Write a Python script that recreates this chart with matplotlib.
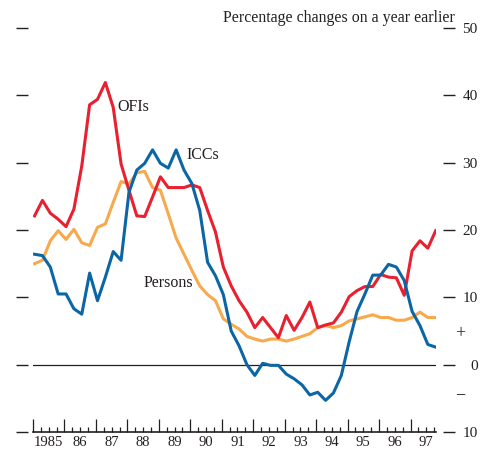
import numpy as np
import matplotlib
matplotlib.use("Agg")
import matplotlib.pyplot as plt
import matplotlib.transforms as mtransforms

plt.rcParams['font.family'] = ['Liberation Serif', 'DejaVu Serif']

# Quarterly growth rates, 1985 Q1 - 1997 Q4 (percentage changes on a year earlier)
quarters = np.arange(52)
ofis = [22.1, 24.4, 22.5, 21.6, 20.5, 23.1, 29.5, 38.6, 39.4, 41.9,
        38.2, 29.8, 25.9, 22.1, 22.0, 24.9, 27.9, 26.3, 26.3, 26.3,
        26.7, 26.3, 22.9, 19.7, 14.5, 11.7, 9.5, 7.8, 5.5, 7.0,
        5.5, 4.0, 7.3, 5.1, 7.0, 9.3, 5.5, 5.9, 6.2, 7.8,
        10.1, 11.0, 11.6, 11.6, 13.4, 13.0, 12.9, 10.3, 16.9, 18.4,
        17.3, 19.9]
iccs = [16.4, 16.2, 14.5, 10.5, 10.5, 8.3, 7.5, 13.6, 9.5, 13.0,
        16.8, 15.5, 25.6, 28.9, 29.9, 31.9, 29.9, 29.2, 31.9, 28.9,
        26.9, 22.9, 15.2, 13.2, 10.4, 5.0, 2.8, 0.0, -1.6, 0.2,
        -0.1, -0.1, -1.4, -2.1, -3.0, -4.5, -4.1, -5.3, -4.2, -1.6,
        3.4, 7.9, 10.5, 13.3, 13.3, 14.9, 14.5, 12.5, 7.9, 5.8,
        3.0, 2.6]
persons = [15.0, 15.5, 18.4, 19.9, 18.6, 20.1, 18.1, 17.7, 20.4, 20.9,
           24.1, 27.2, 26.8, 28.5, 28.7, 26.3, 25.9, 22.4, 18.8, 16.4,
           14.0, 11.7, 10.4, 9.5, 6.8, 6.0, 5.3, 4.2, 3.8, 3.5,
           3.8, 3.8, 3.5, 3.8, 4.2, 4.6, 5.5, 5.8, 5.5, 5.8,
           6.5, 6.8, 7.1, 7.4, 7.0, 7.0, 6.6, 6.6, 7.0, 7.8,
           7.0, 7.0]

years = np.arange(1985, 1998)
year_labels = ['1985', '86', '87', '88', '89', '90', '91', '92', '93', '94', '95', '96', '97']
yticks = [-10, 0, 10, 20, 30, 40, 50]
ytick_labels = ['10', '0', '10', '20', '30', '40', '50']

RED = '#e8202f'
BLUE = '#0b66a6'
ORANGE = '#f7a94b'
INK = '#231f20'

t = 1985 + (quarters + 0.2) / 4.0

fig = plt.figure(figsize=(4.81, 4.51), dpi=100)
ax = fig.add_axes([33 / 481, 19 / 451, 402.7 / 481, 404 / 451])

ax.axhline(0, color=INK, lw=0.9, zorder=1)
ax.plot(t, persons, color=ORANGE, lw=2.2, zorder=2)
ax.plot(t, ofis, color=RED, lw=2.2, zorder=3)
ax.plot(t, iccs, color=BLUE, lw=2.2, zorder=4)

ax.set_xlim(1985, 1997.8)
ax.set_ylim(-10, 50)

# spines: only the bottom axis line is drawn, y ticks float outside
ax.spines['top'].set_visible(False)
ax.spines['left'].set_position(('outward', 3.6))
ax.spines['right'].set_position(('outward', 5.3))
ax.spines['left'].set_color('none')
ax.spines['right'].set_color('none')
ax.spines['bottom'].set_linewidth(1.2)
ax.spines['bottom'].set_color(INK)

# x axis: year boundaries (major) and quarters (minor), labels mid-year
ax.set_xticks(years)
ax.set_xticklabels([])
qpos = [y + q / 4 for y in years for q in (1, 2, 3)]
qlab = []
for y, lab in zip(years, year_labels):
    qlab += ['', lab, '']
ax.set_xticks(qpos, minor=True)
ax.set_xticklabels(qlab, minor=True)
ax.tick_params(axis='x', which='major', direction='in', length=9.4, width=0.9, color=INK)
ax.tick_params(axis='x', which='minor', direction='in', length=3.8, width=0.9, color=INK,
               pad=3, labelsize=10.5, labelcolor=INK)

# y axis: dashes on both sides, labels on the right (right-aligned)
ax.set_yticks(yticks)
ax.set_yticklabels(ytick_labels)
ax.tick_params(axis='y', which='both', left=True, right=True, labelleft=False, labelright=True,
               direction='out', length=8.3, width=1.0, color=INK, pad=16.5,
               labelsize=11, labelcolor=INK)
for lab in ax.get_yticklabels():
    lab.set_horizontalalignment('right')

trans = mtransforms.blended_transform_factory(ax.transAxes, ax.transData)
ax.text(1.06, 4.6, '+', transform=trans, ha='center', va='center', fontsize=13, color=INK, clip_on=False)
ax.text(1.06, -4.4, '\u2212', transform=trans, ha='center', va='center', fontsize=13, color=INK, clip_on=False)

fig.text(455 / 481, 1 - 18 / 451, 'Percentage changes on a year earlier',
         ha='right', va='center', fontsize=11.4, color=INK)

ax.text(1987.67, 38.2, 'OFIs', ha='left', va='center', fontsize=11.5, color=INK)
ax.text(1989.89, 31.2, 'ICCs', ha='left', va='center', fontsize=11.5, color=INK)
ax.text(1988.52, 12.2, 'Persons', ha='left', va='center', fontsize=11.5, color=INK)

fig.savefig('out.png', dpi=100)
